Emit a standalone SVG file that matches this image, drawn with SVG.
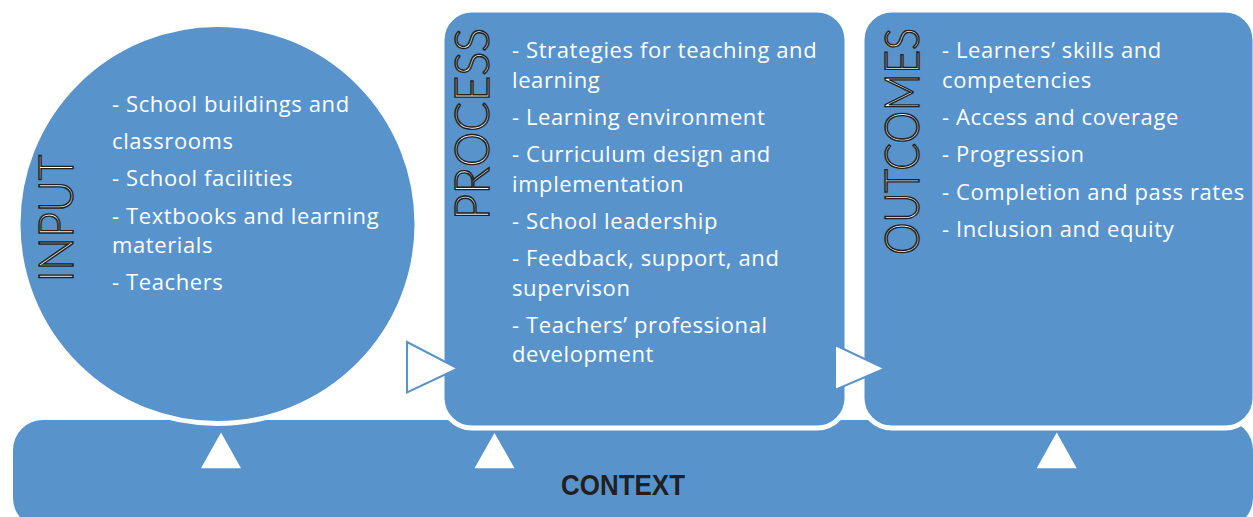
<svg xmlns="http://www.w3.org/2000/svg" width="1253" height="517" viewBox="0 0 1253 517">
  <style>
    .shape { fill: #5993cc; stroke: #ffffff; stroke-width: 5; }
    .body { font-family: "Open Sans", "Liberation Sans", sans-serif; font-size: 22px; fill: #ffffff; letter-spacing: 0.6px; }
    .title { font-family: Lato, "Liberation Sans", sans-serif; font-weight: 300; font-size: 47px; fill: #ffffff; stroke: #231f20; stroke-width: 1.5; }
    .ctx { font-family: "Liberation Sans", Arial, sans-serif; font-weight: bold; font-size: 29px; fill: #231f20; }
    .up { fill: #ffffff; }
    .right { fill: #ffffff; stroke: #5993cc; stroke-width: 2; stroke-linejoin: miter; }
  </style>
  <rect width="1253" height="517" fill="#ffffff"/>

  <g id="context">
    <rect x="13" y="420" width="1240" height="108" rx="30" ry="30" fill="#5993cc"/>
    <text class="ctx" x="623" y="495" text-anchor="middle" textLength="124" lengthAdjust="spacingAndGlyphs">CONTEXT</text>
  </g>

  <g id="input">
    <circle class="shape" cx="217.5" cy="224" r="199.5"/>
    <text class="title" transform="translate(72.5,282) rotate(-90)" textLength="127" lengthAdjust="spacingAndGlyphs">INPUT</text>
    <g class="body">
      <text x="112" y="111.5">- School buildings and</text>
      <text x="112" y="149">classrooms</text>
      <text x="112" y="186">- School facilities</text>
      <text x="112" y="224">- Textbooks and learning</text>
      <text x="112" y="252.7">materials</text>
      <text x="112" y="290">- Teachers</text>
    </g>
  </g>

  <g id="process">
    <rect class="shape" x="442" y="10" width="405" height="418" rx="30" ry="30"/>
    <text class="title" transform="translate(488.5,220) rotate(-90)" textLength="192" lengthAdjust="spacingAndGlyphs">PROCESS</text>
    <g class="body">
      <text x="512" y="58.3">- Strategies for teaching and</text>
      <text x="512" y="88.3">learning</text>
      <text x="512" y="125">- Learning environment</text>
      <text x="512" y="162.3">- Curriculum design and</text>
      <text x="512" y="191.7">implementation</text>
      <text x="512" y="229">- School leadership</text>
      <text x="512" y="266">- Feedback, support, and</text>
      <text x="512" y="295.7">supervison</text>
      <text x="512" y="332.7">- Teachers’ professional</text>
      <text x="512" y="361.7">development</text>
    </g>
  </g>

  <g id="outcomes">
    <rect class="shape" x="862" y="10" width="393" height="418" rx="30" ry="30"/>
    <text class="title" transform="translate(918.5,255) rotate(-90)" textLength="227" lengthAdjust="spacingAndGlyphs">OUTCOMES</text>
    <g class="body">
      <text x="942" y="58.3">- Learners’ skills and</text>
      <text x="942" y="88.3">competencies</text>
      <text x="942" y="125">- Access and coverage</text>
      <text x="942" y="162.3">- Progression</text>
      <text x="942" y="200">- Completion and pass rates</text>
      <text x="942" y="237.3">- Inclusion and equity</text>
    </g>
  </g>

  <g id="connectors">
    <polygon class="right" points="407,342 458,368.5 407,392.5"/>
    <polygon class="right" points="835,345 885,368.5 835,390"/>
    <polygon class="up" points="221,432.5 241,468.3 201,468.3"/>
    <polygon class="up" points="494.5,433 514.5,468.3 474.5,468.3"/>
    <polygon class="up" points="1056.7,432.5 1076.7,468.3 1036.7,468.3"/>
  </g>
</svg>
